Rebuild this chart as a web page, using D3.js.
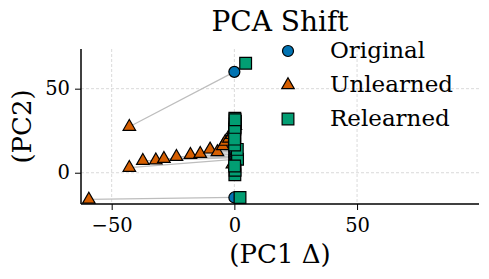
<!DOCTYPE html>
<html>
<head>
<meta charset="utf-8">
<script src="https://cdn.jsdelivr.net/npm/d3@7"></script>
<style>
  body { margin: 0; background: #fff; }
  text { font-family: "DejaVu Serif", serif; fill: #000; }
</style>
</head>
<body>
<script>
// data (one entry per sample)
var origX = [0, 0, 0, 0, 0, 0, 0, 0, 0, 0, 0, 0, 0, 0, 0, 0, 0, 0];
var origY = [60, -14.7, 8, 9, 9.5, 10, 11, 12, 13, 15, 14, 17, 19, 21, 23, 26, 28, 5];
var unlX = [-42.8, -59.3, -42.8, -37.3, -32.0, -28.7, -23.6, -17.9, -13.9, -9.9, -6.9, -4.7, -3.7, -2.2, -1.0, -0.6, 0.4, -0.8];
var unlY = [27.4, -15.9, 3.0, 7.1, 7.4, 8.3, 9.5, 10.7, 11.3, 13.9, 12.3, 15.9, 18.5, 20.4, 22.5, 25.5, 28.0, 5.0];
var relX = [4.6, 2.3, 1.3, 0.2, 0.3, 0.1, 0.4, 0.2, 1.2, 0.3, 0.1, 0.2, 0.0, 0.3, 0.1, 0.2, 0.3, 0.1];
var relY = [65.1, -14.7, 8.0, -1.2, 1.5, 4.0, 30.5, 32.4, 13.9, 27.0, 24.0, 21.0, 18.5, 29.0, 16.5, 26.0, 31.5, 20.0];
var xTicks = [-50, 0, 50];
var yTicks = [0, 50];
var legendNames = ["Original", "Unlearned", "Relearned"];

var W = 489, H = 279;
var margin = {top: 49, right: 10, bottom: 75, left: 81},
    width = W - margin.left - margin.right,
    height = H - margin.top - margin.bottom;

var colors = {Original: "#0173b2", Unlearned: "#d55e00", Relearned: "#029e73"};
var shapes = {
  Original: d3.symbol().type(d3.symbolCircle).size(95),
  Unlearned: d3.symbol().type(d3.symbolTriangle).size(68),
  Relearned: d3.symbol().type(d3.symbolSquare).size(138)
};

var x = d3.scaleLinear().domain([-62.5, 99.7]).range([0, width]);
var y = d3.scaleLinear().domain([-18.6, 73.6]).range([height, 0]);

var svg = d3.select("body").append("svg")
    .attr("width", W).attr("height", H);
var g = svg.append("g")
    .attr("transform", "translate(" + margin.left + "," + margin.top + ")");

// grid
g.selectAll(".gx").data(xTicks).enter().append("line")
  .attr("x1", d => x(d)).attr("x2", d => x(d))
  .attr("y1", 0).attr("y2", height)
  .attr("stroke", "#d0d0d0").attr("stroke-width", 0.8).attr("stroke-dasharray", "3,2");
g.selectAll(".gy").data(yTicks).enter().append("line")
  .attr("x1", 0).attr("x2", width)
  .attr("y1", d => y(d)).attr("y2", d => y(d))
  .attr("stroke", "#d0d0d0").attr("stroke-width", 0.8).attr("stroke-dasharray", "3,2");

var idx = d3.range(origX.length);

// connecting lines original -> unlearned
g.selectAll(".link").data(idx).enter().append("line")
  .attr("x1", i => x(origX[i])).attr("y1", i => y(origY[i]))
  .attr("x2", i => x(unlX[i])).attr("y2", i => y(unlY[i]))
  .attr("stroke", "#bdbdbd").attr("stroke-width", 1.2);

function drawPoints(name, xs, ys) {
  g.selectAll(".p" + name).data(idx).enter().append("path")
    .attr("d", shapes[name])
    .attr("transform", i => "translate(" + x(xs[i]) + "," + y(ys[i]) + ")")
    .attr("fill", colors[name]).attr("stroke", "#000").attr("stroke-width", 1.2);
}
drawPoints("Original", origX, origY);
drawPoints("Unlearned", unlX, unlY);
drawPoints("Relearned", relX, relY);

// axes
var xAxis = g.append("g")
  .attr("transform", "translate(0," + height + ")")
  .call(d3.axisBottom(x).tickValues(xTicks).tickSize(6).tickPadding(8));
var yAxis = g.append("g")
  .call(d3.axisLeft(y).tickValues(yTicks).tickSize(6).tickPadding(5));
[xAxis, yAxis].forEach(function(a) {
  a.select(".domain").remove();
  a.selectAll("text").style("font-size", "19.5px").style("font-family", "DejaVu Serif");
  a.selectAll("line").attr("stroke", "#000").attr("stroke-width", 1);
});
g.append("line").attr("x1", 0).attr("x2", width).attr("y1", height).attr("y2", height)
  .attr("stroke", "#000").attr("stroke-width", 1.5);
g.append("line").attr("x1", 0).attr("x2", 0).attr("y1", 0).attr("y2", height)
  .attr("stroke", "#000").attr("stroke-width", 1.5);

// labels
svg.append("text").attr("x", margin.left + width / 2).attr("y", 31)
  .attr("text-anchor", "middle").style("font-size", "28px").text("PCA Shift");
svg.append("text").attr("x", margin.left + width / 2).attr("y", 263)
  .attr("text-anchor", "middle").style("font-size", "26px").text("(PC1 Δ)");
svg.append("text")
  .attr("transform", "translate(31," + (margin.top + height / 2) + ") rotate(-90)")
  .attr("text-anchor", "middle").style("font-size", "26px").text("(PC2)");

// legend
var leg = svg.append("g").attr("transform", "translate(288,51)");
legendNames.forEach(function(name, i) {
  var row = leg.append("g").attr("transform", "translate(0," + (i * 34) + ")");
  row.append("path").attr("d", shapes[name])
    .attr("fill", colors[name]).attr("stroke", "#000").attr("stroke-width", 1.2);
  row.append("text").attr("x", 42).attr("y", 7).style("font-size", "23px").text(name);
});
</script>
</body>
</html>
